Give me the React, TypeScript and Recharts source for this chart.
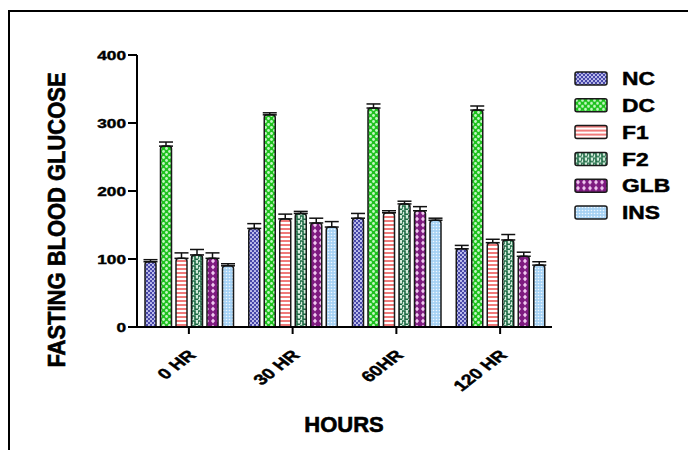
import React from 'react';
import { BarChart, Bar, XAxis, YAxis, ErrorBar } from 'recharts';

const hours = ['0 HR', '30 HR', '60HR', '120 HR'];
const yTicks = [0, 100, 200, 300, 400];

const groups = ['NC', 'DC', 'F1', 'F2', 'GLB', 'INS'];
// mean values per group at each time point
const ncValues = [96, 145, 160, 115];
const dcValues = [266, 312, 322, 319];
const f1Values = [101, 159, 168, 124];
const f2Values = [106, 167, 181, 128];
const glbValues = [101, 153, 171, 104];
const insValues = [90, 147, 157, 91];
// SEM (upper error bar only)
const ncErr = [3, 7, 7, 5];
const dcErr = [6, 3, 6, 6];
const f1Err = [8, 7, 3, 5];
const f2Err = [8, 3, 4, 8];
const glbErr = [8, 7, 6, 6];
const insErr = [3, 8, 3, 5];

const values = [ncValues, dcValues, f1Values, f2Values, glbValues, insValues];
const errors = [ncErr, dcErr, f1Err, f2Err, glbErr, insErr];

const data = hours.map((h, i) => {
  const row: any = { hour: h };
  groups.forEach((g, j) => {
    row[g] = values[j][i];
    row[g + '_err'] = errors[j][i];
  });
  return row;
});

const font = '"Liberation Sans", Arial, sans-serif';

const Patterns = () => (
  <defs>
    <pattern id="pNC" width="4" height="4" patternUnits="userSpaceOnUse">
      <rect width="4" height="4" fill="#4646a8" />
      <circle cx="1" cy="1" r="1.1" fill="#c8c8f2" />
      <circle cx="3" cy="3" r="1.1" fill="#c8c8f2" />
    </pattern>
    <pattern id="pDC" width="6" height="6" patternUnits="userSpaceOnUse">
      <rect width="6" height="6" fill="#1ec21e" />
      <circle cx="1.5" cy="1.5" r="1.4" fill="#c4f6c4" />
      <circle cx="4.5" cy="4.5" r="1.4" fill="#c4f6c4" />
    </pattern>
    <pattern id="pF1" width="4" height="4" patternUnits="userSpaceOnUse">
      <rect width="4" height="4" fill="#ffffff" />
      <rect y="0" width="4" height="2" fill="#f07a7a" />
    </pattern>
    <pattern id="pF2" width="6" height="5" patternUnits="userSpaceOnUse">
      <rect width="6" height="5" fill="#d4ecdc" />
      <path d="M0 4.2 V1 H3 V4.2 H6" fill="none" stroke="#1d6a44" strokeWidth="1.6" />
    </pattern>
    <pattern id="pGLB" width="6" height="6" patternUnits="userSpaceOnUse">
      <rect width="6" height="6" fill="#7e1a80" />
      <path d="M3 0.6 L5 3 L3 5.4 L1 3 Z" fill="#f0c8f0" />
    </pattern>
    <pattern id="pINS" width="3" height="3" patternUnits="userSpaceOnUse">
      <rect width="3" height="3" fill="#a6d2f4" />
      <circle cx="1.5" cy="1.5" r="0.8" fill="#eef7ff" />
    </pattern>
  </defs>
);

const YTick = ({ x, y, payload }: any) => (
  <text
    transform={`translate(${x},${y}) scale(1.33,1)`}
    textAnchor="end"
    dy="0.35em"
    fontFamily={font}
    fontWeight="bold"
    fontSize={13}
    fill="#000"
    stroke="#000"
    strokeWidth={0.4}
  >
    {payload.value}
  </text>
);

const XTick = ({ x, y, payload }: any) => (
  <text
    transform={`translate(${x + 8},${y + 20}) scale(1.3,1) rotate(-45)`}
    textAnchor="end"
    fontFamily={font}
    fontWeight="bold"
    fontSize={15}
    fill="#000"
    stroke="#000"
    strokeWidth={0.45}
  >
    {payload.value}
  </text>
);

export default function App() {
  return (
    <div style={{ position: 'fixed', left: 0, top: 0, width: 688, height: 450, background: '#fff', overflow: 'hidden' }}>
      <div style={{ position: 'absolute', left: 8, top: 10, width: 690, height: 450, borderLeft: '2px solid #000', borderTop: '2px solid #000' }} />
      <div style={{ position: 'absolute', left: 0, top: 0 }}>
        <BarChart
          width={688}
          height={450}
          data={data}
          margin={{ top: 55, right: 136, bottom: 23, left: 77 }}
          barSize={11}
          barGap={4.5}
        >
          <Patterns />
          <XAxis
            dataKey="hour"
            height={100}
            tickSize={7}
            tick={<XTick />}
            axisLine={{ stroke: '#000', strokeWidth: 2 }}
            tickLine={{ stroke: '#000', strokeWidth: 2 }}
            label={{
              content: () => (
                <text x={344} y={432} textAnchor="middle" fontFamily={font} fontWeight="bold" fontSize={22} fill="#000" stroke="#000" strokeWidth={0.6}>
                  HOURS
                </text>
              ),
            }}
          />
          <YAxis
            width={60}
            domain={[0, 400]}
            ticks={yTicks}
            tickSize={9}
            tick={<YTick />}
            axisLine={{ stroke: '#000', strokeWidth: 2 }}
            tickLine={{ stroke: '#000', strokeWidth: 2 }}
            label={{
              content: () => (
                <text
                  transform="translate(57,220) scale(1.3,1) rotate(-90) scale(1.22,1)"
                  textAnchor="middle"
                  dy="0.35em"
                  fontFamily={font}
                  fontWeight="bold"
                  fontSize={18}
                  fill="#000"
                  stroke="#000"
                  strokeWidth={0.5}
                >
                  FASTING BLOOD GLUCOSE
                </text>
              ),
            }}
          />
          {groups.map((g) => (
            <Bar
              key={g}
              dataKey={g}
              fill={`url(#p${g})`}
              stroke="#1a1a1a"
              strokeWidth={1.5}
              radius={[3, 3, 0, 0]}
              isAnimationActive={false}
            >
              <ErrorBar
                dataKey={(d: any) => [0, d[g + '_err']]}
                width={7}
                stroke="#111"
                strokeWidth={1.5}
              />
            </Bar>
          ))}
        </BarChart>
      </div>
      <svg width={120} height={170} style={{ position: 'absolute', left: 570, top: 60 }}>
        {groups.map((g, i) => (
          <g key={g} transform={`translate(5,${12 + i * 26.8})`}>
            <rect x={0} y={0} width={32} height={13} rx={2} fill={`url(#p${g})`} stroke="#1a1a1a" strokeWidth={1.5} />
            <text
              transform={`translate(47,${6.5}) scale(1.2,1)`}
              dy="0.35em"
              fontFamily={font}
              fontWeight="bold"
              fontSize={19}
              fill="#000"
              stroke="#000"
              strokeWidth={0.5}
            >
              {g}
            </text>
          </g>
        ))}
      </svg>
    </div>
  );
}
